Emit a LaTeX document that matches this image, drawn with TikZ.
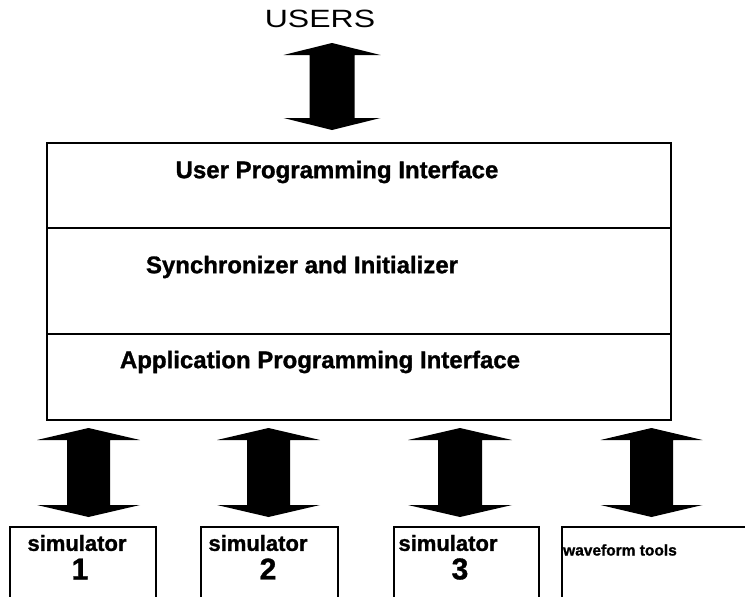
\documentclass[tikz,border=0pt]{standalone}
\usepackage{fontspec}
\setmainfont{Liberation Sans}[BoldFeatures={FakeBold=1.2}]
\begin{document}
\begin{tikzpicture}[x=1pt,y=-1pt,
  frame/.style={draw=black,line width=1.6pt,inner sep=0pt,anchor=north west},
  layer/.style={font=\fontsize{24}{28}\selectfont\bfseries,inner sep=0pt},
  simtxt/.style={font=\fontsize{22}{24}\selectfont\bfseries,inner sep=0pt},
  numtxt/.style={font=\fontsize{30}{34}\selectfont\bfseries,inner sep=0pt},
  ]
\useasboundingbox (0,0) rectangle (745,597);
\newcommand\blockarrow[6]{%
  \fill[black] (#1,#2) -- (#1+#4,#2+#6) -- (#1+#5,#2+#6) -- (#1+#5,#3-#6)
    -- (#1+#4,#3-#6) -- (#1,#3) -- (#1-#4,#3-#6) -- (#1-#5,#3-#6)
    -- (#1-#5,#2+#6) -- (#1-#4,#2+#6) -- cycle;}
% main stack
\node[frame,minimum width=624pt,minimum height=85pt] (upi) at (46,142) {};
\node[frame,minimum width=624pt,minimum height=106pt] (sai) at (46,227) {};
\node[frame,minimum width=624pt,minimum height=86pt] (api) at (46,333) {};
\node[layer] (upit) at (337,172) {User Programming Interface};
\node[layer] (sait) at (302,267) {Synchronizer and Initializer};
\node[layer] (apit) at (320,362) {Application Programming Interface};
% users
\node[inner sep=0pt,font=\fontsize{25}{28}\selectfont] (users) at (320,19) {\scalebox{1.28}[1]{USERS}};
\blockarrow{332}{43}{130}{48.5}{22.5}{12}
% bottom boxes
\node[frame,minimum width=146pt,minimum height=100pt] (s1) at (9,526) {};
\node[frame,minimum width=137pt,minimum height=100pt] (s2) at (200,526) {};
\node[frame,minimum width=145pt,minimum height=100pt] (s3) at (393,526) {};
\node[frame,minimum width=250pt,minimum height=100pt] (wf) at (561,526) {};
\node[simtxt] (s1a) at (77,543) {simulator};
\node[numtxt] (s1b) at (80,569) {1};
\node[simtxt] (s2a) at (258,543) {simulator};
\node[numtxt] (s2b) at (268,569) {2};
\node[simtxt] (s3a) at (448,543) {simulator};
\node[numtxt] (s3b) at (460,569) {3};
\node[inner sep=0pt,font=\fontsize{15.5}{18}\selectfont\bfseries] (wft) at (620,550) {waveform\ tools};
\blockarrow{88.5}{428}{517}{51.5}{21.5}{12}
\blockarrow{268.5}{428}{517}{51.5}{21.5}{12}
\blockarrow{460}{428}{517}{52}{22}{12}
\blockarrow{651.5}{428}{517}{51}{21.5}{12}
\end{tikzpicture}
\end{document}
